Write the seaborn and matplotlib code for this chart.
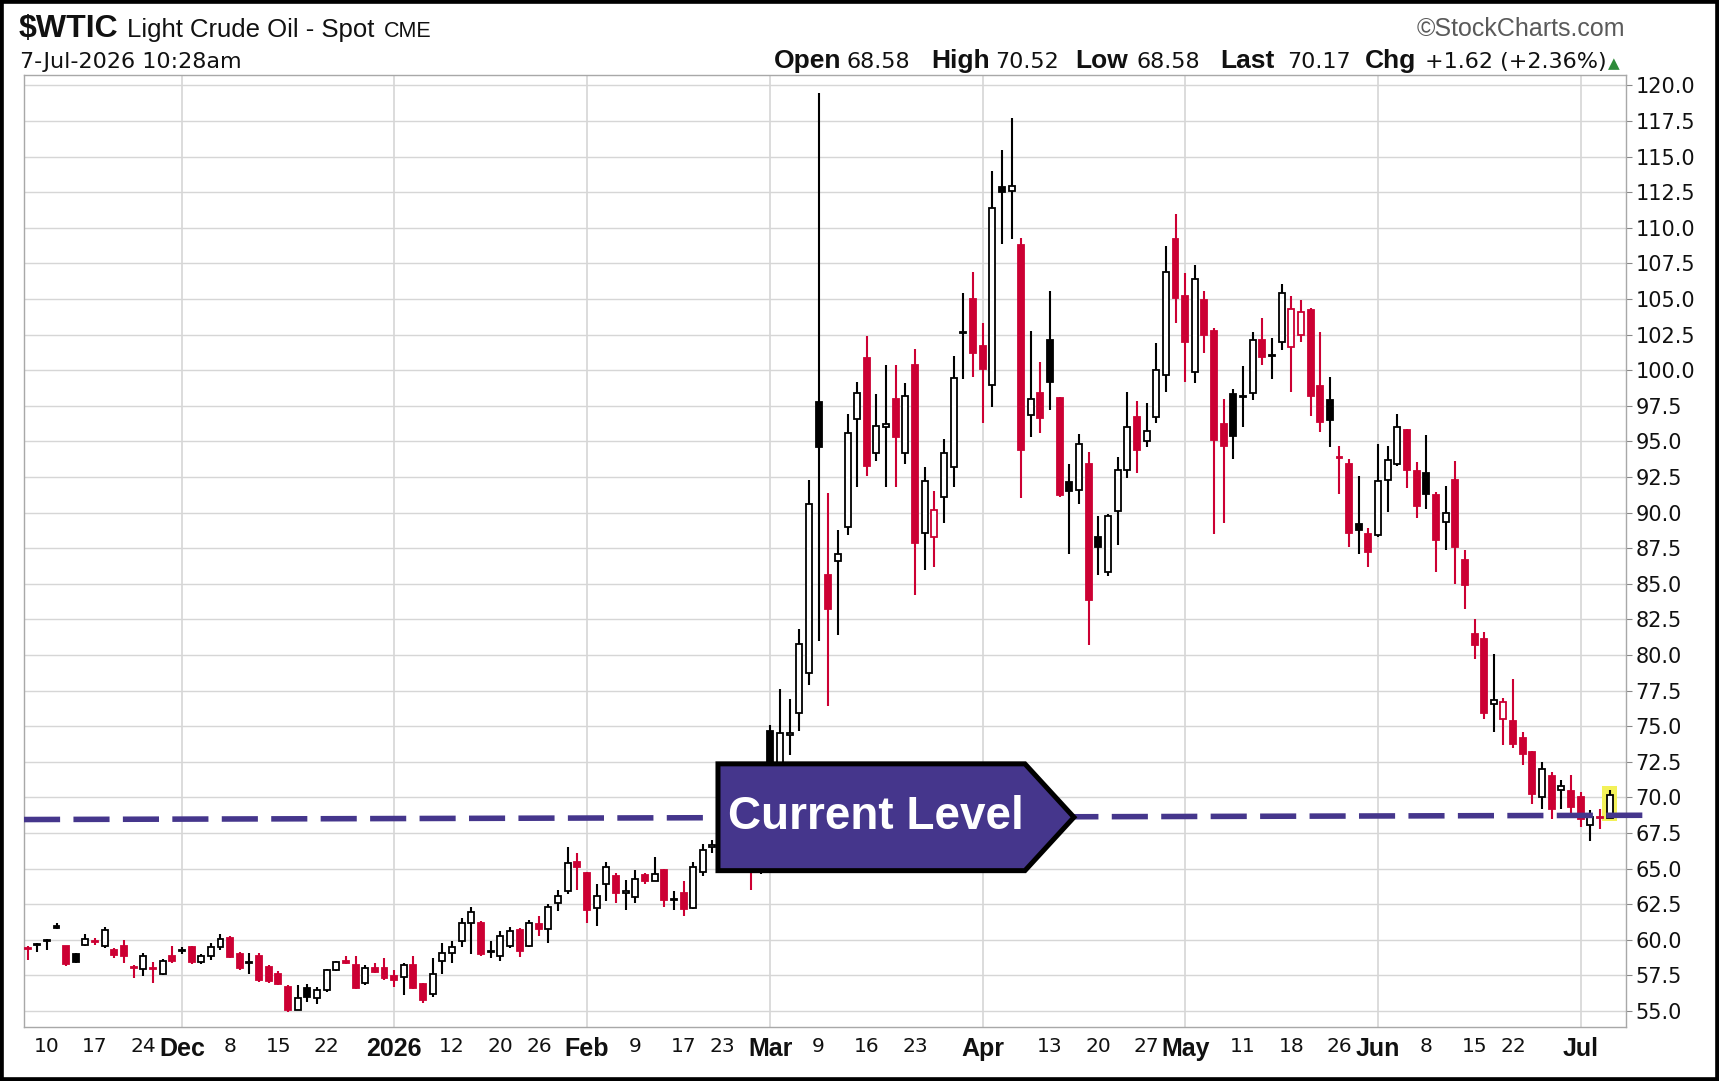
import numpy as np
import pandas as pd
import matplotlib
matplotlib.use("Agg")
import matplotlib.pyplot as plt
import seaborn as sns
from matplotlib.patches import Rectangle, Polygon

# ---------------- data ----------------
holidays = ["2025-11-27", "2025-12-25", "2026-01-01", "2026-01-19", "2026-02-16",
            "2026-04-03", "2026-05-25", "2026-06-19", "2026-07-03"]
dates = pd.bdate_range("2025-11-06", "2026-07-07", freq="C", holidays=holidays)

prior_close = 59.6

opens = [
    59.45, 59.65, 60.0, 60.95, 59.55, 59.0, 59.65, 59.9, 59.6, 59.3,
    59.6, 58.05, 57.95, 58.05, 57.6, 58.9, 59.25, 59.5, 58.45, 58.9,
    59.5, 60.1, 59.0, 58.45, 58.9, 58.1, 57.6, 56.7, 55.1, 56.65,
    55.9, 56.45, 57.9, 58.5, 58.2, 56.95, 58.0, 58.0, 57.45, 57.4,
    58.2, 56.9, 56.2, 58.5, 59.1, 59.9, 61.2, 61.2, 59.2, 58.9,
    59.6, 60.7, 59.6, 61.1, 60.75, 62.6, 63.4, 65.5, 64.7, 62.25,
    63.9, 64.5, 63.3, 63.0, 64.55, 64.15, 64.9, 62.8, 63.3, 62.25,
    64.8, 66.5, 66.7, 67.3, 68.0, 66.8, 65.4, 74.7, 71.9, 74.4,
    75.9, 78.75, 97.8, 85.6, 86.6, 89.0, 96.6, 100.85, 94.2, 96.0,
    98.0, 94.2, 100.4, 88.6, 88.3, 91.1, 93.2, 102.7, 105.0, 101.7,
    98.95, 112.9, 112.6, 108.8, 96.85, 98.4, 102.1, 98.05, 92.15, 91.6,
    93.4, 88.3, 85.85, 90.1, 93.0, 96.7, 95.0, 96.7, 99.7, 109.2,
    105.25, 99.85, 104.9, 102.75, 96.25, 98.3, 98.1, 98.4, 102.1, 101.0,
    101.95, 101.65, 102.5, 104.2, 98.9, 97.9, 93.9, 93.4, 89.2, 88.5,
    88.4, 92.3, 93.4, 95.8, 92.9, 92.75, 91.25, 89.35, 92.3, 86.7,
    81.45, 81.1, 76.55, 75.5, 75.4, 74.2, 73.2, 70.0, 71.5, 70.5,
    70.45, 70.0, 68.05, 68.6, 68.58]

highs = [
    59.6, 59.8, 60.05, 61.2, 59.6, 59.05, 60.4, 60.1, 60.9, 59.45,
    60.0, 58.2, 59.1, 58.45, 58.65, 59.6, 59.5, 59.6, 59.0, 59.8,
    60.4, 60.3, 59.15, 59.1, 59.05, 58.25, 57.8, 56.8, 56.8, 56.9,
    56.7, 57.95, 58.55, 58.85, 58.85, 58.2, 58.35, 58.7, 57.9, 58.35,
    58.85, 57.0, 58.7, 59.8, 59.9, 61.5, 62.3, 61.3, 59.9, 60.6,
    60.9, 60.8, 61.4, 61.7, 62.5, 63.5, 66.5, 66.1, 64.75, 63.9,
    65.5, 64.7, 64.2, 64.9, 64.7, 65.8, 65.0, 63.4, 64.1, 65.5,
    66.7, 67.0, 67.6, 68.5, 68.9, 67.5, 67.8, 75.1, 77.6, 76.9,
    81.8, 92.3, 119.5, 91.4, 88.8, 96.95, 99.2, 102.4, 98.3, 100.4,
    100.4, 99.1, 101.5, 93.2, 91.5, 95.2, 101.0, 105.4, 106.9, 103.3,
    114.0, 115.5, 117.7, 109.3, 102.75, 100.6, 105.6, 98.1, 93.4, 95.5,
    94.25, 89.8, 89.9, 93.9, 98.5, 97.85, 97.7, 101.9, 108.7, 111.0,
    106.8, 107.4, 105.6, 103.0, 98.0, 98.7, 100.3, 102.7, 103.7, 102.3,
    106.05, 105.2, 104.9, 104.4, 102.7, 99.5, 94.7, 93.8, 92.55, 88.95,
    94.8, 94.7, 96.9, 95.9, 93.55, 95.45, 91.45, 91.9, 93.6, 87.4,
    82.5, 81.6, 80.1, 77.0, 78.3, 74.6, 73.25, 72.5, 71.8, 71.2,
    71.6, 70.35, 69.1, 69.2, 70.52]

lows = [
    58.6, 59.15, 59.3, 60.75, 58.15, 58.4, 59.55, 59.65, 59.4, 58.7,
    58.4, 57.3, 57.45, 57.0, 57.5, 58.35, 59.0, 58.3, 58.3, 58.6,
    59.3, 58.7, 57.85, 57.6, 57.05, 57.0, 56.8, 54.9, 55.05, 55.65,
    55.5, 56.35, 57.8, 58.3, 56.55, 56.85, 57.65, 57.2, 56.7, 56.1,
    56.55, 55.6, 56.0, 57.6, 58.4, 59.5, 59.0, 58.9, 58.7, 58.5,
    59.4, 58.8, 59.5, 60.3, 59.8, 62.0, 63.2, 63.5, 61.2, 61.0,
    62.7, 62.6, 62.1, 62.6, 63.9, 64.1, 62.3, 62.1, 61.7, 62.15,
    64.5, 66.1, 66.2, 66.8, 66.5, 63.5, 64.6, 70.5, 70.8, 73.0,
    74.7, 77.9, 81.0, 76.4, 81.4, 88.4, 91.8, 92.6, 93.6, 91.8,
    91.8, 93.4, 84.2, 86.0, 86.2, 89.3, 91.8, 99.4, 99.5, 96.3,
    97.4, 108.9, 109.2, 91.05, 95.3, 95.6, 97.2, 91.1, 87.1, 90.6,
    80.7, 85.6, 85.55, 87.7, 92.4, 92.75, 94.6, 96.3, 98.5, 103.3,
    99.2, 99.1, 101.2, 88.5, 89.3, 93.8, 96.0, 97.9, 100.4, 99.4,
    101.4, 98.5, 102.0, 96.8, 95.65, 94.6, 91.3, 87.6, 87.1, 86.2,
    88.3, 90.05, 93.3, 91.75, 89.6, 90.25, 85.85, 87.4, 85.0, 83.2,
    79.7, 75.5, 74.6, 73.7, 73.5, 72.3, 69.55, 69.2, 68.5, 69.2,
    68.6, 67.9, 66.95, 67.8, 68.58]

closes = [
    59.35, 59.7, 59.95, 60.85, 58.3, 58.45, 60.05, 59.85, 60.7, 58.95,
    58.85, 58.0, 58.9, 57.95, 58.55, 58.5, 59.2, 58.45, 58.85, 59.5,
    60.05, 58.8, 58.05, 58.4, 57.15, 57.1, 56.9, 55.05, 55.9, 56.0,
    56.45, 57.85, 58.45, 58.35, 56.6, 58.05, 57.75, 57.3, 57.2, 58.2,
    56.6, 55.75, 57.6, 59.05, 59.5, 61.2, 61.95, 59.0, 59.15, 60.3,
    60.6, 59.2, 61.2, 60.75, 62.3, 63.1, 65.4, 65.1, 62.1, 63.1,
    65.15, 63.3, 63.4, 64.3, 64.1, 64.6, 62.8, 62.85, 62.2, 65.1,
    66.3, 66.65, 67.2, 68.1, 66.9, 65.3, 67.0, 71.8, 74.5, 74.55,
    80.8, 90.6, 94.6, 83.2, 87.1, 95.6, 98.4, 93.3, 96.1, 96.2,
    95.3, 98.2, 87.9, 92.2, 90.2, 94.2, 99.45, 102.6, 101.2, 100.1,
    111.4, 112.5, 112.95, 94.4, 98.0, 96.65, 99.15, 91.25, 91.5, 94.85,
    83.85, 87.6, 89.8, 93.0, 96.0, 94.4, 95.75, 100.0, 106.9, 105.1,
    101.95, 106.4, 102.5, 95.1, 94.7, 95.35, 98.2, 102.1, 100.9, 101.05,
    105.4, 104.3, 104.1, 98.2, 96.35, 96.5, 93.85, 88.6, 88.8, 87.25,
    92.2, 93.7, 96.05, 93.0, 90.45, 91.3, 88.1, 90.0, 87.6, 84.9,
    80.7, 75.95, 76.85, 76.7, 73.75, 73.05, 70.25, 72.0, 69.2, 70.8,
    69.3, 68.5, 68.6, 68.55, 70.17]

tick_dates = ["2025-11-10", "2025-11-17", "2025-11-24", "2025-12-01", "2025-12-08",
              "2025-12-15", "2025-12-22", "2026-01-02", "2026-01-12", "2026-01-20",
              "2026-01-26", "2026-02-02", "2026-02-09", "2026-02-17", "2026-02-23",
              "2026-03-02", "2026-03-09", "2026-03-16", "2026-03-23", "2026-04-01",
              "2026-04-13", "2026-04-20", "2026-04-27", "2026-05-01", "2026-05-11",
              "2026-05-18", "2026-05-26", "2026-06-01", "2026-06-08", "2026-06-15",
              "2026-06-22", "2026-07-01"]
tick_labels = ["10", "17", "24", "Dec", "8", "15", "22", "2026", "12", "20", "26", "Feb",
               "9", "17", "23", "Mar", "9", "16", "23", "Apr", "13", "20", "27", "May",
               "11", "18", "26", "Jun", "8", "15", "22", "Jul"]
bold_labels = {"Dec", "2026", "Feb", "Mar", "Apr", "May", "Jun", "Jul"}
y_ticks = np.arange(55.0, 120.01, 2.5)

# "Current Level" annotation (drawn level line, left -> right)
level_line = [68.45, 68.75]
annotation_text = "Current Level"

# ---------------- style ----------------
sns.set_style("white")
plt.rcParams["font.family"] = ["DejaVu Sans"]

RED = "#cc0033"
GRID = "#d6d6d6"
PURPLE = "#45368c"

W, H = 1719, 1081
fig = plt.figure(figsize=(W / 100, H / 100), dpi=100)
ax = fig.add_axes([24 / W, 1 - 1027 / H, (1626 - 24) / W, (1027 - 74.5) / H])

n = len(closes)
df = pd.DataFrame({"date": dates[:n], "open": opens, "high": highs,
                   "low": lows, "close": closes})
x = np.arange(n)
o = df["open"].to_numpy(); c = df["close"].to_numpy()
h = df["high"].to_numpy(); l = df["low"].to_numpy()
prev = np.r_[prior_close, c[:-1]]
col = np.where(c >= prev, "black", RED)
filled = c < o
face = np.where(filled, col, "white")
bottoms = np.minimum(o, c)
heights = np.maximum(np.abs(c - o), 0.06)

# grid
for yv in y_ticks:
    ax.axhline(yv, color=GRID, lw=1.0, zorder=0)
pos = {d: i for i, d in enumerate(df["date"].dt.strftime("%Y-%m-%d"))}
tick_pos = [pos[d] for d in tick_dates]
for p, lab in zip(tick_pos, tick_labels):
    if lab in bold_labels:
        ax.axvline(p, color=GRID, lw=1.2, zorder=0)

# highlight last candle
ax.add_patch(Rectangle((x[-1] - 0.8, l[-1] - 0.25), 1.6, h[-1] - l[-1] + 0.5,
                       facecolor="#f3f158", edgecolor="none", zorder=1))

# candles
ax.vlines(x, l, h, colors=col, lw=1.5, zorder=3)
ax.bar(x, heights, bottom=bottoms, width=0.62, color=face, edgecolor=col,
       linewidth=1.3, zorder=4)

ax.set_xlim(-0.37, 165.7)
ax.set_ylim(53.88, 120.77)

# level line
ax.plot([0, 1.013], level_line, transform=ax.get_yaxis_transform(), color=PURPLE,
        lw=4, dashes=(6.5, 2.4), solid_capstyle="butt", clip_on=False, zorder=6)

# annotation box (arrow shaped)
bx0, bx1, btip = 71.57, 103.39, 108.47
by0, by1 = 64.86, 72.36
ymid = (by0 + by1) / 2
ax.add_patch(Polygon([(bx0, by1), (bx1, by1), (btip, ymid), (bx1, by0), (bx0, by0)],
                     closed=True, facecolor=PURPLE, edgecolor="black", lw=3.6,
                     joinstyle="miter", zorder=7))
ax.text(87.9, ymid, annotation_text, color="white", fontsize=33, fontweight="bold",
        family="Liberation Sans", ha="center", va="center", zorder=8)

# axes cosmetics
for s in ax.spines.values():
    s.set_color("#a8a8a8"); s.set_linewidth(1.0)
ax.yaxis.tick_right()
ax.set_yticks(y_ticks)
ax.set_yticklabels([f"{v:.1f}" for v in y_ticks], fontsize=15, color="#111111")
ax.tick_params(axis="y", length=4, width=0.8, color="#888888", pad=3)
ax.set_xticks(tick_pos)
ax.set_xticklabels(tick_labels, fontsize=14.5, color="#111111")
for t in ax.get_xticklabels():
    if t.get_text() in bold_labels:
        t.set_fontfamily("Liberation Sans"); t.set_fontweight("bold"); t.set_fontsize(18)
ax.tick_params(axis="x", which="major", length=0, pad=7)
ax.set_xticks(x, minor=True)
ax.tick_params(axis="x", which="minor", length=3, width=0.6, color="#b0b0b0")
ax.grid(False)

# header
def ftxt(px, py, s, **kw):
    fig.text(px / W, 1 - py / H, s, va="baseline", **kw)

ftxt(19, 37, "$WTIC", fontsize=23, fontweight="bold", family="Liberation Sans", color="#111")
ftxt(127, 37, "Light Crude Oil - Spot", fontsize=18.5, family="Liberation Sans", color="#111")
ftxt(384, 37, "CME", fontsize=15.5, family="Liberation Sans", color="#111")
ftxt(20, 68, "7-Jul-2026 10:28am", fontsize=16, color="#111")
ftxt(1625, 36, "\u00a9StockCharts.com", fontsize=18, family="Liberation Sans",
     color="#5a5a5a", ha="right")

chg = c[-1] - c[-2]
pct = chg / c[-2] * 100
pieces = [("Open", 774, True), (f"{o[-1]:.2f}", 846, False),
          ("High", 931, True), (f"{h[-1]:.2f}", 995, False),
          ("Low", 1075, True), (f"{l[-1]:.2f}", 1136, False),
          ("Last", 1220, True), (f"{c[-1]:.2f}", 1287, False),
          ("Chg", 1365, True), (f"{chg:+.2f} ({pct:+.2f}%)", 1425, False)]
for s, px, b in pieces:
    if b:
        ftxt(px, 68, s, fontsize=19, fontweight="bold", family="Liberation Sans", color="#111")
    else:
        ftxt(px, 68, s, fontsize=16, color="#111")
ftxt(1614, 68, "\u25b2", fontsize=11, color="#2e8b3a", ha="center")

# outer border
fig.patches.append(Rectangle((0, 0), 1, 1, transform=fig.transFigure, fill=False,
                             edgecolor="black", lw=5.5, zorder=10))

fig.savefig("out.png", dpi=100)
